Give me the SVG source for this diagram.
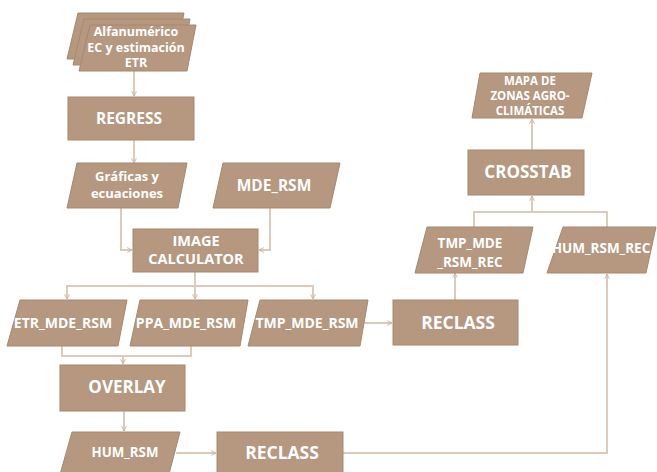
<svg xmlns="http://www.w3.org/2000/svg" width="657" height="472" viewBox="0 0 657 472">
<defs>
<style>
.n{fill:#b5987f;stroke:#a5886f;stroke-width:1}
.t{fill:#fff;font-family:"Open Sans",sans-serif;font-weight:700;text-anchor:middle}
.c{fill:none;stroke:#dccabb;stroke-width:2}
</style>
<marker id="a" viewBox="0 0 10 10" refX="9" refY="5" markerWidth="6" markerHeight="6" orient="auto" markerUnits="userSpaceOnUse">
<path d="M1,1 L9,5 L1,9" fill="none" stroke="#cdb7a5" stroke-width="1.6"/>
</marker>
</defs>
<rect width="657" height="472" fill="#fff"/>
<g id="connectors">
<path class="c" d="M134,71 V96" marker-end="url(#a)"/>
<path class="c" d="M134,140 V163" marker-end="url(#a)"/>
<path class="c" d="M121,208 V250 H132" marker-end="url(#a)"/>
<path class="c" d="M270,208 V250 H259" marker-end="url(#a)"/>
<path class="c" d="M195,272 V299" marker-end="url(#a)"/>
<path class="c" d="M195,286 H67 V299" marker-end="url(#a)"/>
<path class="c" d="M195,286 H313 V299" marker-end="url(#a)"/>
<path class="c" d="M360,323 H392" marker-end="url(#a)"/>
<path class="c" d="M62,346 V356 H191 V346"/>
<path class="c" d="M123,356 V364" marker-end="url(#a)"/>
<path class="c" d="M124,411 V431" marker-end="url(#a)"/>
<path class="c" d="M176,453 H216" marker-end="url(#a)"/>
<path class="c" d="M343,453 H607 V274" marker-end="url(#a)"/>
<path class="c" d="M455,300 V273" marker-end="url(#a)"/>
<path class="c" d="M474,227 V212 H607 V227"/>
<path class="c" d="M532,212 V196" marker-end="url(#a)"/>
<path class="c" d="M532,150 V119" marker-end="url(#a)"/>
</g>
<g id="alfanumerico">
<polygon class="n" points="78,13 184,13 175,59 67,59"/>
<polygon class="n" points="84,19 190,19 181,65 73,65"/>
<polygon class="n" points="90,25 196,25 187,71 79,71"/>
<text class="t" font-size="12.5"><tspan x="136" y="36">Alfanumérico</tspan><tspan x="136" y="51.5">EC y estimación</tspan><tspan x="136" y="67">ETR</tspan></text>
</g>
<g id="regress">
<rect class="n" x="68" y="97" width="126" height="43"/>
<text class="t" x="129" y="124" font-size="15.5">REGRESS</text>
</g>
<g id="graficas">
<polygon class="n" points="77,163 187,163 178,208 67,208"/>
<text class="t" font-size="13"><tspan x="127" y="181">Gráficas y</tspan><tspan x="127" y="197.5">ecuaciones</tspan></text>
</g>
<g id="mde_rsm">
<polygon class="n" points="223,163 340,163 330,208 213,208"/>
<text class="t" x="274" y="191" font-size="15.5">MDE_RSM</text>
</g>
<g id="image_calculator">
<rect class="n" x="133" y="229" width="125" height="43"/>
<text class="t" font-size="14.5"><tspan x="196" y="246">IMAGE</tspan><tspan x="196" y="264">CALCULATOR</tspan></text>
</g>
<g id="etr_mde_rsm">
<polygon class="n" points="20,300 127,300 118,346 7,346"/>
<text class="t" x="63" y="328" font-size="14">ETR_MDE_RSM</text>
</g>
<g id="ppa_mde_rsm">
<polygon class="n" points="140,300 248,300 240,346 130,346"/>
<text class="t" x="186" y="328" font-size="14">PPA_MDE_RSM</text>
</g>
<g id="tmp_mde_rsm">
<polygon class="n" points="260,300 368,300 360,346 248,346"/>
<text class="t" x="307" y="328" font-size="14">TMP_MDE_RSM</text>
</g>
<g id="reclass1">
<rect class="n" x="393" y="300" width="125" height="45"/>
<text class="t" x="458" y="329" font-size="17.5">RECLASS</text>
</g>
<g id="overlay">
<rect class="n" x="60" y="365" width="125" height="46"/>
<text class="t" x="127" y="393" font-size="17">OVERLAY</text>
</g>
<g id="hum_rsm">
<polygon class="n" points="72,432 180,432 168,478 59,478"/>
<text class="t" x="125" y="457" font-size="13.3">HUM_RSM</text>
</g>
<g id="reclass2">
<rect class="n" x="217" y="432" width="126" height="46"/>
<text class="t" x="282" y="459" font-size="17.5">RECLASS</text>
</g>
<g id="tmp_mde_rsm_rec">
<polygon class="n" points="427,227 533,227 523,273 415,273"/>
<text class="t" font-size="13.5"><tspan x="470" y="248">TMP_MDE</tspan><tspan x="470" y="267">_RSM_REC</tspan></text>
</g>
<g id="hum_rsm_rec">
<polygon class="n" points="563,227 656,227 646,273 547,273"/>
<text class="t" x="601" y="253" font-size="13.5">HUM_RSM_REC</text>
</g>
<g id="crosstab">
<rect class="n" x="468" y="150" width="116" height="45"/>
<text class="t" x="528" y="178" font-size="17">CROSSTAB</text>
</g>
<g id="mapa">
<polygon class="n" points="480,73 592,73 582,118 472,118"/>
<text class="t" font-size="11.5"><tspan x="530" y="84.5">MAPA DE</tspan><tspan x="530" y="99.5">ZONAS AGRO-</tspan><tspan x="530" y="114.5">CLIMÁTICAS</tspan></text>
</g>
</svg>
